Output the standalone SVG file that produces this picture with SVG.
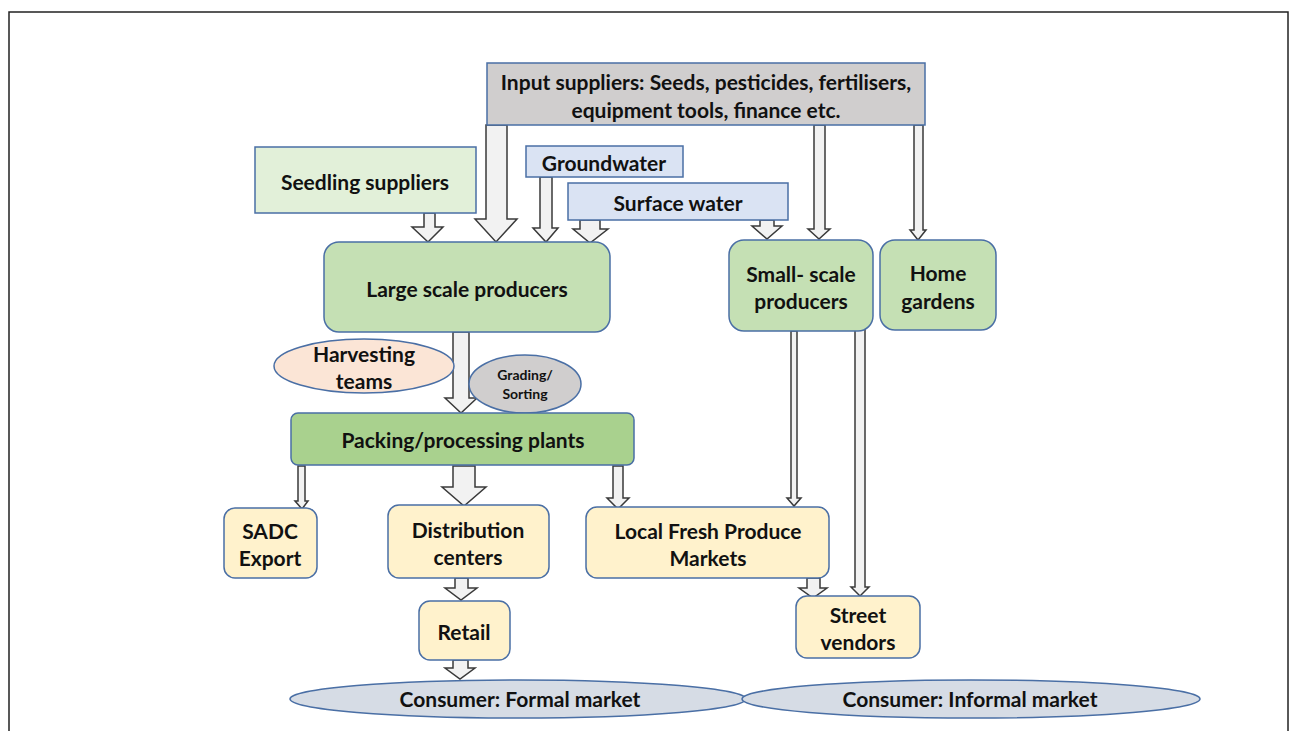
<svg xmlns="http://www.w3.org/2000/svg" width="1290" height="731" viewBox="0 0 1290 731">
<style>
  text { font-family: Lato, "Open Sans", "Liberation Sans", sans-serif; font-weight: bold; fill: #111; text-anchor: middle; dominant-baseline: central; font-size: 21px; }
  .nd { stroke: #4a6fa5; stroke-width: 1.5; }
  .arr { fill: #f2f2f2; stroke: #3a3a3a; stroke-width: 1.5; stroke-linejoin: miter; }
  .gray { fill: #d0cece; }
  .seed { fill: #e2f0d9; }
  .water { fill: #dae3f3; }
  .prod { fill: #c5e0b4; }
  .pack { fill: #a9d18e; }
  .yel { fill: #fff2cc; }
  .harv { fill: #fbe5d6; }
  .cons { fill: #d6dce5; }
  .small { font-size: 14px; }
</style>
<rect x="0" y="0" width="1290" height="731" fill="#ffffff"/>
<rect x="9" y="12" width="1279" height="740" fill="none" stroke="#222" stroke-width="1.5"/>

<g id="connectors">
  <!-- Seedling -> Large -->
  <path class="arr" d="M424,213 V227 H412 L428,242 L443,227 H435 V213 Z"/>
  <!-- Input -> Large -->
  <path class="arr" d="M486,125 V219 H475 L496,242 L517,219 H507 V125 Z"/>
  <!-- Groundwater -> Large -->
  <path class="arr" d="M540,177 V228 H533 L546,242 L558,228 H552 V177 Z"/>
  <!-- Surface -> Large -->
  <path class="arr" d="M580,220 V229 H573 L590,243 L608,229 H600 V220 Z"/>
  <!-- Surface -> Small -->
  <path class="arr" d="M760,220 V226 H752 L767,239 L782,226 H774 V220 Z"/>
  <!-- Input -> Small -->
  <path class="arr" d="M814,125 V229 H808 L819,239 L830,229 H825 V125 Z"/>
  <!-- Input -> Home -->
  <path class="arr" d="M914,125 V230 H910 L918,240 L926,230 H923 V125 Z"/>
  <!-- Large -> Packing -->
  <path class="arr" d="M453,332 V398 H445 L461,413 L477,398 H469 V332 Z"/>
  <!-- Packing -> SADC -->
  <path class="arr" d="M298,466 V501 H295 L302,509 L308,501 H305 V466 Z"/>
  <!-- Packing -> Distribution -->
  <path class="arr" d="M453,466 V487 H442 L464,506 L486,487 H475 V466 Z"/>
  <!-- Packing -> Local -->
  <path class="arr" d="M613,466 V498 H607 L618,509 L629,498 H623 V466 Z"/>
  <!-- Distribution -> Retail -->
  <path class="arr" d="M455,578 V588 H445 L461,600 L477,588 H468 V578 Z"/>
  <!-- Retail -> Formal -->
  <path class="arr" d="M453,660 V668 H445 L460,679 L475,668 H468 V660 Z"/>
  <!-- Small -> Local -->
  <path class="arr" d="M791,331 V498 H787 L794,506 L801,498 H797 V331 Z"/>
  <!-- Small -> Street -->
  <path class="arr" d="M855,327 V587 H851 L860,596 L869,587 H865 V327 Z"/>
  <!-- Local -> Street -->
  <path class="arr" d="M807,578 V588 H799 L813,598 L827,588 H820 V578 Z"/>
</g>

<g id="input-suppliers">
  <rect class="nd gray" x="487" y="63" width="438" height="62"/>
  <text x="706" y="81">Input suppliers: Seeds, pesticides, fertilisers,</text>
  <text x="706" y="109">equipment tools, finance etc.</text>
</g>
<g id="seedling-suppliers">
  <rect class="nd seed" x="255" y="147" width="221" height="66"/>
  <text x="365" y="181">Seedling suppliers</text>
</g>
<g id="groundwater">
  <rect class="nd water" x="526" y="146" width="157" height="31"/>
  <text x="604" y="162">Groundwater</text>
</g>
<g id="surface-water">
  <rect class="nd water" x="568" y="183" width="220" height="37"/>
  <text x="678" y="202">Surface water</text>
</g>
<g id="large-scale-producers">
  <rect class="nd prod" x="324" y="242" width="286" height="90" rx="15"/>
  <text x="467" y="288">Large scale producers</text>
</g>
<g id="small-scale-producers">
  <rect class="nd prod" x="729" y="240" width="144" height="91" rx="15"/>
  <text x="801" y="273">Small- scale</text>
  <text x="801" y="300">producers</text>
</g>
<g id="home-gardens">
  <rect class="nd prod" x="880" y="240" width="116" height="90" rx="15"/>
  <text x="938" y="272">Home</text>
  <text x="938" y="300">gardens</text>
</g>
<g id="harvesting-teams">
  <ellipse class="nd harv" cx="364" cy="366" rx="90" ry="27"/>
  <text x="364" y="353">Harvesting</text>
  <text x="364" y="380">teams</text>
</g>
<g id="grading-sorting">
  <ellipse class="nd gray" cx="525" cy="384" rx="56" ry="29"/>
  <text class="small" x="525" y="374">Grading/</text>
  <text class="small" x="525" y="393">Sorting</text>
</g>
<g id="packing-plants">
  <rect class="nd pack" x="291" y="413" width="343" height="52" rx="7"/>
  <text x="463" y="439">Packing/processing plants</text>
</g>
<g id="sadc-export">
  <rect class="nd yel" x="224" y="508" width="93" height="70" rx="11"/>
  <text x="270" y="530">SADC</text>
  <text x="270" y="557">Export</text>
</g>
<g id="distribution-centers">
  <rect class="nd yel" x="388" y="505" width="161" height="73" rx="11"/>
  <text x="468" y="529">Distribution</text>
  <text x="468" y="556">centers</text>
</g>
<g id="local-markets">
  <rect class="nd yel" x="586" y="507" width="243" height="71" rx="11"/>
  <text x="708" y="530">Local Fresh Produce</text>
  <text x="708" y="557">Markets</text>
</g>
<g id="retail">
  <rect class="nd yel" x="419" y="601" width="91" height="59" rx="11"/>
  <text x="464" y="631">Retail</text>
</g>
<g id="street-vendors">
  <rect class="nd yel" x="796" y="596" width="124" height="62" rx="11"/>
  <text x="858" y="614">Street</text>
  <text x="858" y="641">vendors</text>
</g>
<g id="consumer-formal">
  <ellipse class="nd cons" cx="518" cy="699" rx="228" ry="19"/>
  <text x="520" y="698">Consumer: Formal market</text>
</g>
<g id="consumer-informal">
  <ellipse class="nd cons" cx="971" cy="699" rx="229" ry="19"/>
  <text x="970" y="698">Consumer: Informal market</text>
</g>
</svg>
